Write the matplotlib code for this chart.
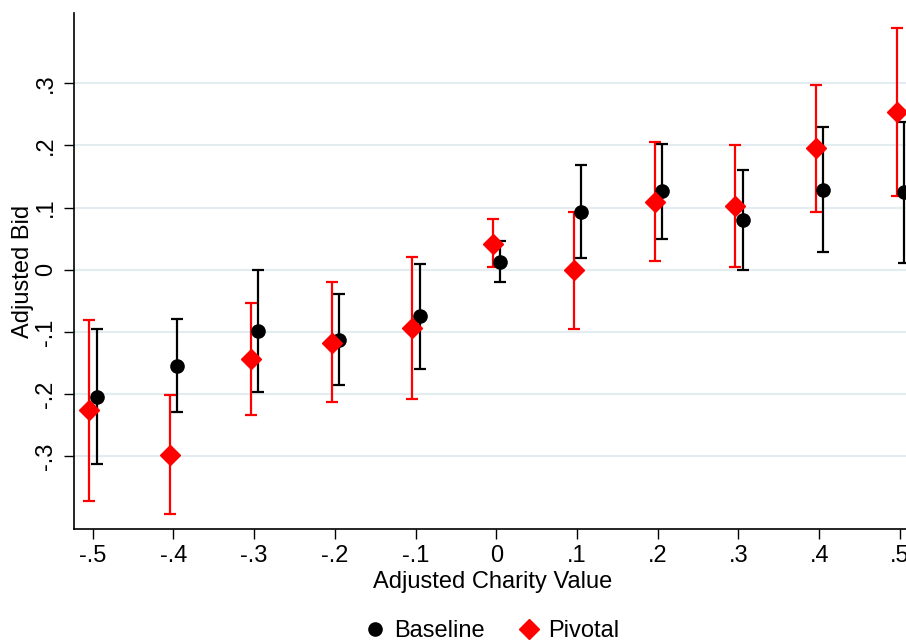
import matplotlib.pyplot as plt
import numpy as np

plt.rcParams['font.family'] = ['Liberation Sans', 'DejaVu Sans']

# Charity value bins
charity = [-0.5, -0.4, -0.3, -0.2, -0.1, 0.0, 0.1, 0.2, 0.3, 0.4, 0.5]

# Baseline estimates and confidence bounds
base_est = [-0.204, -0.154, -0.099, -0.113, -0.074, 0.013, 0.093, 0.126, 0.080, 0.129, 0.125]
base_hi = [-0.095, -0.079, 0.000, -0.039, 0.010, 0.047, 0.168, 0.202, 0.160, 0.229, 0.238]
base_lo = [-0.312, -0.228, -0.196, -0.185, -0.159, -0.020, 0.019, 0.050, 0.000, 0.029, 0.011]

# Pivotal estimates and confidence bounds
piv_est = [-0.226, -0.298, -0.144, -0.117, -0.093, 0.042, -0.001, 0.109, 0.102, 0.195, 0.254]
piv_hi = [-0.080, -0.202, -0.054, -0.020, 0.021, 0.081, 0.093, 0.205, 0.201, 0.297, 0.388]
piv_lo = [-0.371, -0.392, -0.234, -0.213, -0.207, 0.004, -0.095, 0.014, 0.004, 0.093, 0.119]

yticks = [-0.3, -0.2, -0.1, 0.0, 0.1, 0.2, 0.3]
ytick_labels = ['-.3', '-.2', '-.1', '0', '.1', '.2', '.3']
xtick_labels = ['-.5', '-.4', '-.3', '-.2', '-.1', '0', '.1', '.2', '.3', '.4', '.5']

x = np.array(charity)
fig = plt.figure(figsize=(9.06, 6.4), dpi=100)
ax = fig.add_axes([0.0817, 0.173, 0.925, 0.807])

def draw(offset, est, lo, hi, color, marker, ms, label):
    est = np.array(est)
    err = [est - np.array(lo), np.array(hi) - est]
    ax.errorbar(x + offset, est, yerr=err, fmt='none', ecolor=color,
                elinewidth=1.6, capsize=4.5, capthick=1.6, zorder=3)
    ax.plot(x + offset, est, linestyle='none', marker=marker, color=color,
            markersize=ms, zorder=4, label=label, clip_on=False)

draw(0.005, base_est, base_lo, base_hi, 'black', 'o', 9.5, 'Baseline')
draw(-0.004, piv_est, piv_lo, piv_hi, '#ff0000', 'D', 10, 'Pivotal')

ax.set_xlim(-0.523, 0.515)
ax.set_ylim(-0.417, 0.413)
ax.set_yticks(yticks)
ax.set_yticklabels(ytick_labels, rotation=90, va='center')
ax.set_xticks(charity)
ax.set_xticklabels(xtick_labels)
ax.tick_params(axis='both', labelsize=17, length=7, width=1, direction='out')
ax.tick_params(axis='x', pad=4)
ax.tick_params(axis='y', pad=5)
ax.grid(axis='y', color='#e3edf1', linewidth=1.5)
ax.set_axisbelow(True)
for s in ['top', 'right']:
    ax.spines[s].set_visible(False)
ax.spines['left'].set_linewidth(1.2)
ax.spines['bottom'].set_linewidth(1.2)

ax.set_xlabel('Adjusted Charity Value', fontsize=17, labelpad=3)
ax.set_ylabel('Adjusted Bid', fontsize=17, labelpad=1)

handles, labels = ax.get_legend_handles_labels()
fig.legend(handles, labels, loc='center', bbox_to_anchor=(0.542, 0.014),
           ncol=2, frameon=False, fontsize=17, handletextpad=0.3,
           columnspacing=1.4, handlelength=1.0)

fig.savefig('out.png', dpi=100)
